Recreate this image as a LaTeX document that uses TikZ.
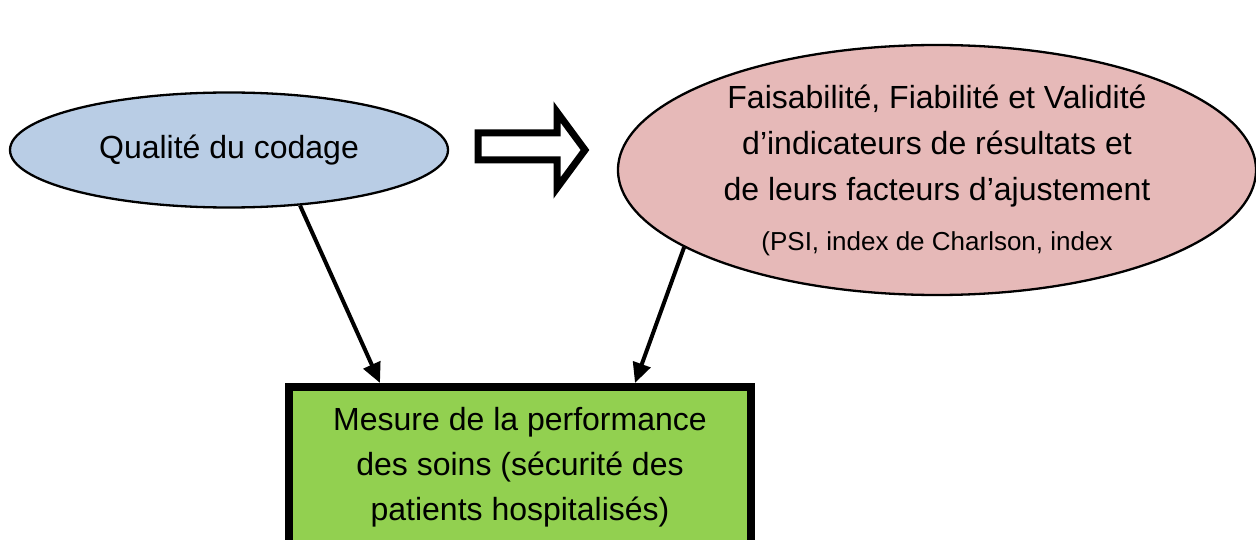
\documentclass[tikz,border=0pt]{standalone}
\usepackage{fontspec}
\setmainfont{Liberation Sans}
\usetikzlibrary{shapes.geometric,arrows.meta,calc}
\definecolor{bluefill}{HTML}{B9CDE5}
\definecolor{pinkfill}{HTML}{E6B9B8}
\definecolor{greenfill}{HTML}{92D050}
\tikzset{
  oval/.style={ellipse,draw=black,line width=2.3pt,inner sep=0pt,align=center},
  bigtext/.style={font=\fontsize{32}{45}\selectfont},
  resultbox/.style={rectangle,draw=black,fill=greenfill,line width=8pt,inner sep=0pt,align=center,font=\fontsize{32}{45}\selectfont},
  conn/.style={line width=4pt,-{Triangle[length=20pt,width=18pt]},shorten >=0pt},
  hollowarrow/.style={draw=black,line width=7pt,fill=white,line join=miter,miter limit=10}
}
\begin{document}
\begin{tikzpicture}[x=1pt,y=-1pt]
\useasboundingbox[fill=white] (0,0) rectangle (1256,540);
\node[oval,fill=bluefill,minimum width=438pt,minimum height=115pt,bigtext] (qual) at (229,150) {\raisebox{-4pt}{Qualité du codage}};
\node[oval,fill=pinkfill,minimum width=638pt,minimum height=250pt,bigtext] (fais) at (937,170)
  {Faisabilité, Fiabilité et Validité\\[1pt]d’indicateurs de résultats et\\[1pt]de leurs facteurs d’ajustement\\[5pt]{\fontsize{26}{30}\selectfont (PSI, index de Charlson, index}};
\node[resultbox,minimum width=462pt,minimum height=160pt] (mes) at (520,467)
  {Mesure de la performance\\des soins (sécurité des\\patients hospitalisés)};
\draw[hollowarrow] (478,133) -- (557,133) -- (557,112) -- (585,150) -- (557,188) -- (557,160) -- (478,160) -- cycle;
\draw[conn] (qual.-38) -- ($(mes.north west)+(95,0)$);
\draw[conn] (fais.197) -- ($(mes.north west)+(350,0)$);
\end{tikzpicture}
\end{document}
